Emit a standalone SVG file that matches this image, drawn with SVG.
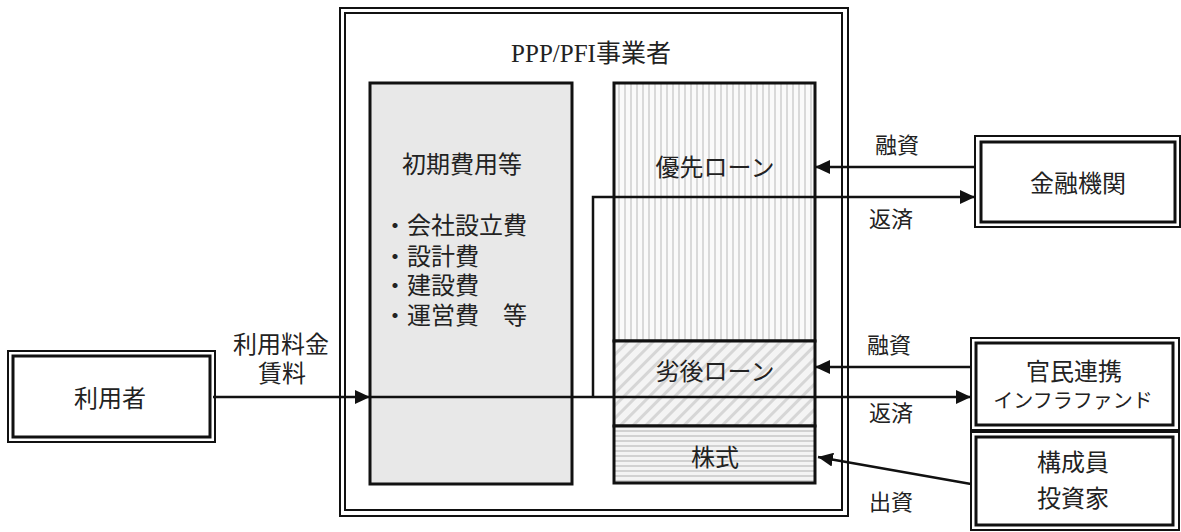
<svg xmlns="http://www.w3.org/2000/svg" width="1181" height="532" viewBox="0 0 1181 532">
<style>
text{font-family:"Liberation Serif","Noto Sans CJK JP",serif;fill:#222;dominant-baseline:central;text-anchor:middle}
.t24{font-size:24px}
.t22{font-size:22px}
.t20{font-size:20px}
.lft{text-anchor:start}
.fo{fill:#fff;stroke:#111;stroke-width:2}
.fi{fill:none;stroke:#111;stroke-width:3}
.blk{stroke:#111;stroke-width:3}
.cn{fill:none;stroke:#111;stroke-width:2.5}
</style>
<defs>
<marker id="ah" markerUnits="userSpaceOnUse" markerWidth="15" markerHeight="14" refX="15" refY="7" orient="auto">
<path d="M0,0 L15,7 L0,14 z" fill="#111"/>
</marker>
<pattern id="vs" patternUnits="userSpaceOnUse" width="6" height="10">
<rect width="6" height="10" fill="#fafafa"/>
<rect x="0" width="2" height="10" fill="#d9d9d9"/>
</pattern>
<pattern id="dg" patternUnits="userSpaceOnUse" width="9" height="9" patternTransform="rotate(45)">
<rect width="9" height="9" fill="#f4f4f4"/>
<rect x="0" width="3" height="9" fill="#d6d6d6"/>
</pattern>
<pattern id="hs" patternUnits="userSpaceOnUse" width="10" height="5">
<rect width="10" height="5" fill="#f4f4f4"/>
<rect y="0" width="10" height="2" fill="#d2d2d2"/>
</pattern>
</defs>
<rect width="1181" height="532" fill="#fff"/>

<g id="ppp-pfi">
<rect x="340" y="8" width="508" height="508" class="fo"/>
<rect x="345" y="13" width="497" height="497" fill="none" stroke="#111" stroke-width="2"/>
<text x="591" y="53" style="font-size:25px">PPP/PFI事業者</text>
</g>

<g id="initial-costs">
<rect x="370" y="83" width="202" height="401" fill="#e8e8e8" class="blk"/>
<text x="462" y="165" class="t24">初期費用等</text>
<text x="383" y="226" class="t24 lft">・会社設立費</text>
<text x="383" y="257" class="t24 lft">・設計費</text>
<text x="383" y="286" class="t24 lft">・建設費</text>
<text x="383" y="316" class="t24 lft">・運営費　等</text>
</g>

<g id="senior-loan">
<rect x="614" y="83" width="201" height="258" fill="url(#vs)" class="blk"/>
<text x="715" y="168" class="t24">優先ローン</text>
</g>
<g id="subordinated-loan">
<rect x="614" y="341" width="201" height="85" fill="url(#dg)" class="blk"/>
<text x="715" y="372" class="t24">劣後ローン</text>
</g>
<g id="equity">
<rect x="614" y="426" width="201" height="57" fill="url(#hs)" class="blk"/>
<text x="715" y="458" class="t24">株式</text>
</g>

<g id="users">
<rect x="8" y="351" width="207" height="91" class="fo"/>
<rect x="13" y="356" width="197" height="81" class="fi"/>
<text x="110" y="399" class="t24">利用者</text>
</g>

<g id="financial-institution">
<rect x="975" y="136" width="205" height="91" class="fo"/>
<rect x="981" y="142" width="194" height="80" class="fi"/>
<text x="1078" y="184" class="t24">金融機関</text>
</g>

<g id="infra-fund">
<rect x="971" y="338" width="208" height="92" class="fo"/>
<rect x="976" y="343" width="197" height="82" class="fi"/>
<text x="1074" y="372" class="t24">官民連携</text>
<text x="1073" y="401" class="t20">インフラファンド</text>
</g>

<g id="investors">
<rect x="971" y="432" width="208" height="98" class="fo"/>
<rect x="976" y="437" width="197" height="88" class="fi"/>
<text x="1073" y="463" class="t24">構成員</text>
<text x="1073" y="499" class="t24">投資家</text>
</g>

<g id="connectors">
<path d="M213,397 H370" class="cn" stroke-width="3.2" marker-end="url(#ah)"/>
<path d="M370,397 H971" class="cn" stroke-width="2" marker-end="url(#ah)"/>
<path d="M593,397 V197 H975" class="cn" stroke-width="2" marker-end="url(#ah)"/>
<path d="M975,167 H815" class="cn" marker-end="url(#ah)"/>
<path d="M971,367 H815" class="cn" marker-end="url(#ah)"/>
<path d="M971,484 L818,457" class="cn" marker-end="url(#ah)"/>
</g>

<g id="labels">
<text x="281" y="345" class="t24">利用料金</text>
<text x="282" y="374" class="t24">賃料</text>
<text x="897" y="145" class="t22">融資</text>
<text x="891" y="219" class="t22">返済</text>
<text x="889" y="345" class="t22">融資</text>
<text x="891" y="413" class="t22">返済</text>
<text x="891" y="502" class="t22">出資</text>
</g>
</svg>
